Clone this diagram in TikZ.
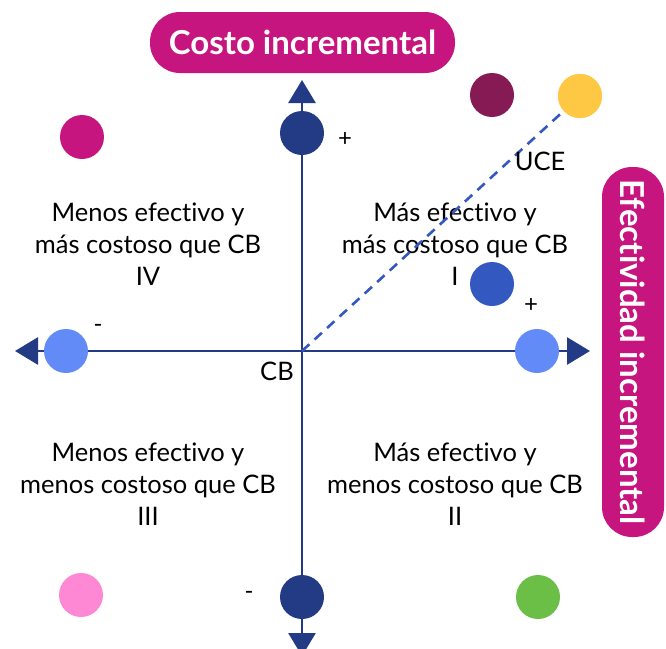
\documentclass[tikz,border=0pt]{standalone}
\usepackage{fontspec}
\setmainfont[Ligatures=NoCommon]{Lato}
\usetikzlibrary{arrows.meta}
\definecolor{navy}{HTML}{233B85}
\definecolor{magentaC}{HTML}{C7157F}
\definecolor{lightblueC}{HTML}{628BF8}
\definecolor{midblueC}{HTML}{3358BF}
\definecolor{maroonC}{HTML}{851A55}
\definecolor{yellowC}{HTML}{FFC844}
\definecolor{pinkC}{HTML}{FF88D4}
\definecolor{greenC}{HTML}{6BBF47}
\tikzset{
  dot/.style={circle,minimum size=44pt,inner sep=0pt,fill=#1},
  quad/.style={align=center,font=\fontsize{25.5}{32}\selectfont,text=black},
  sign/.style={font=\fontsize{24}{24}\selectfont,text=black},
  tag/.style={fill=magentaC,text=white,rounded corners=30pt,font=\fontsize{33}{36}\selectfont\bfseries,inner sep=0pt},
  axis/.style={draw=navy,line width=2.8pt,-{Triangle[length=23pt,width=27pt]}},
}
\begin{document}
\begin{tikzpicture}[x=1pt,y=-1pt]
\useasboundingbox (0,0) rectangle (666,648);
\clip (0,0) rectangle (666,648);
\coordinate (O) at (302,351);
\coordinate (T) at (302,80);
\coordinate (B) at (302,656);
\coordinate (L) at (15,351);
\coordinate (R) at (590,351);
\draw[axis] (O) -- (T);
\draw[axis] (O) -- (B);
\draw[axis] (O) -- (L);
\draw[axis] (O) -- (R);
\node[dot=yellowC] (yel) at (580,96) {};
\node[quad] (q4) at (148,244) {Menos efectivo y\\más costoso que CB\\IV};
\node[quad] (q1) at (455,244) {Más efectivo y\\más costoso que CB\\I};
\node[quad] (q3) at (148,484) {Menos efectivo y\\menos costoso que CB\\III};
\node[quad] (q2) at (455,484) {Más efectivo y\\menos costoso que CB\\II};
\draw[midblueC,line width=2.6pt,dash pattern=on 10pt off 7pt] (O) -- (yel);
\node[dot=yellowC] at (yel) {};
\node[dot=navy] (top) at (302,133) {};
\node[dot=navy] (bot) at (302,597) {};
\node[dot=lightblueC] (lft) at (66,351) {};
\node[dot=lightblueC] (rgt) at (537,351) {};
\node[dot=midblueC] (mid) at (492,284) {};
\node[dot=maroonC] (mar) at (492,95) {};
\node[dot=magentaC] (mag) at (82,137) {};
\node[dot=pinkC] (pnk) at (81,595) {};
\node[dot=greenC] (grn) at (538,597) {};
\node[sign] (p1) at (345,140) {+};
\node[sign] (p2) at (531,305) {+};
\node[sign] (m1) at (98,328) {-};
\node[sign] (m2) at (249,595) {-};
\node[quad] (cb) at (277,371) {CB};
\node[quad] (uce) at (540,161) {UCE};
\node[tag,minimum width=305pt,minimum height=61pt] (ct) at (302.5,42.5) {Costo incremental};
\node[tag,minimum width=370pt,minimum height=62pt,rotate=-90] (ef) at (633,352) {Efectividad incremental};
\end{tikzpicture}
\end{document}
